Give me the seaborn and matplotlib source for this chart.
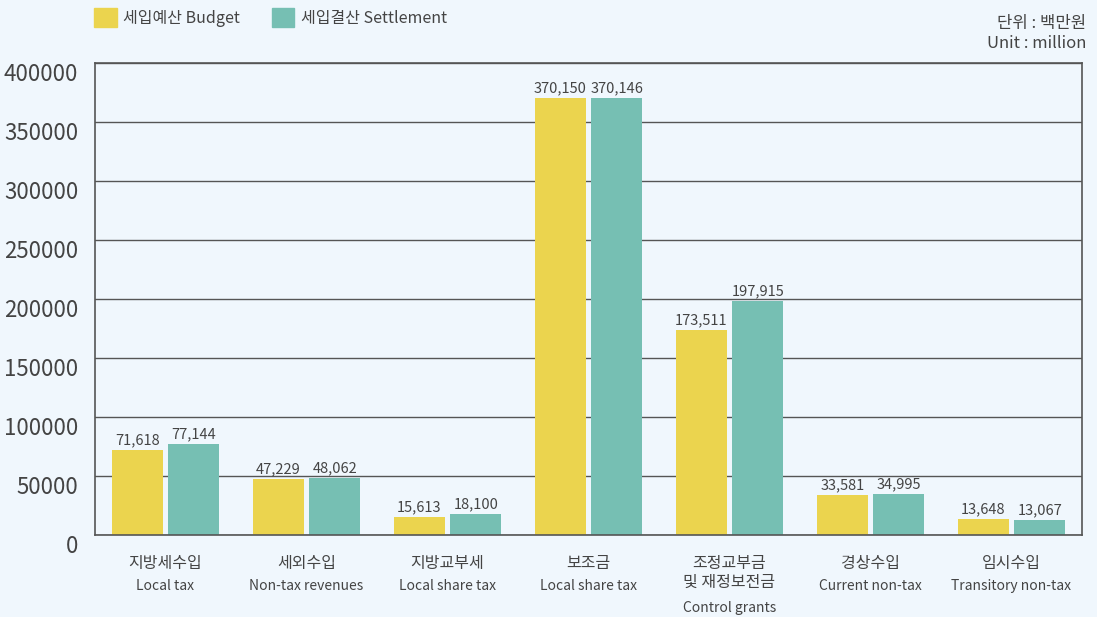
import numpy as np
import pandas as pd
import matplotlib.pyplot as plt
import seaborn as sns

sns.set_theme(style="white")
plt.rcParams['font.family'] = ['Noto Sans CJK KR', 'DejaVu Sans']
plt.rcParams['font.weight'] = 'light'

# values (unit: million won)
cats_ko = ["지방세수입", "세외수입", "지방교부세", "보조금", "조정교부금\n및 재정보전금", "경상수입", "임시수입"]
cats_en = ["Local tax", "Non-tax revenues", "Local share tax", "Local share tax", "Control grants", "Current non-tax", "Transitory non-tax"]
budget = [71618, 47229, 15613, 370150, 173511, 33581, 13648]
settlement = [77144, 48062, 18100, 370146, 197915, 34995, 13067]
series = ["세입예산 Budget", "세입결산 Settlement"]
colors = ["#EBD44E", "#76BFB3"]

df = pd.DataFrame({
    "cat": cats_ko * 2,
    "value": budget + settlement,
    "series": [series[0]] * len(budget) + [series[1]] * len(settlement),
})

bg = "#F0F7FD"
txt = "#444444"
line = "#555555"

fig = plt.figure(figsize=(10.97, 6.17), dpi=100, facecolor=bg)
ax = fig.add_axes([0.0866, 0.1329, 0.8997, 0.765])
ax.set_facecolor(bg)

sns.barplot(data=df, x="cat", y="value", hue="series", palette=colors,
            width=0.8, gap=0.1, ax=ax, saturation=1, edgecolor="none")

ax.set_ylim(0, 400000)
ax.set_xlim(-0.5, len(cats_ko) - 0.5)
ax.set_yticks(np.arange(0, 400001, 50000))
ax.yaxis.grid(True, color=line, linewidth=1)
ax.set_axisbelow(True)
ax.tick_params(axis="y", length=0, pad=12, labelsize=16, labelcolor=txt)
for t in ax.get_yticklabels():
    t.set_verticalalignment("top")

# category labels (Korean + English)
ax.set_xticks(range(len(cats_ko)))
ax.set_xticklabels([])
ax.tick_params(axis="x", which="major", length=0)
ax.set_xticks(np.arange(0.5, len(cats_ko) - 1, 1), minor=True)
ax.tick_params(axis="x", which="minor", direction="in", length=9, width=1, color="#666666")
trans = ax.get_xaxis_transform()
for i, (ko, en) in enumerate(zip(cats_ko, cats_en)):
    ax.text(i, -0.043, ko, transform=trans, ha="center", va="top",
            fontsize=11.5, color=txt, linespacing=1.15)
    nl = ko.count("\n")
    ax.text(i, -0.093 - nl * 0.046, en, transform=trans, ha="center", va="top",
            fontsize=10, color=txt)

ax.set_xlabel("")
ax.set_ylabel("")
for s in ax.spines.values():
    s.set_color(line)
    s.set_linewidth(1.2)

for cont in ax.containers:
    ax.bar_label(cont, labels=[f"{v:,.0f}" for v in cont.datavalues],
                 padding=2, fontsize=10.5, color=txt)

ax.legend_.remove()
handles = [plt.Rectangle((0, 0), 1, 1, color=c) for c in colors]
fig.legend(handles, series, loc="upper left", bbox_to_anchor=(0.073, 1.01),
           ncol=2, frameon=False, fontsize=11.5, handlelength=1.4, handleheight=1.4,
           handletextpad=0.4, columnspacing=2.0, labelcolor=txt)

fig.text(0.99, 0.975, "단위 : 백만원\nUnit : million", ha="right", va="top",
         fontsize=12, color=txt, linespacing=1.2, multialignment="right")

fig.savefig("out.png", dpi=100, facecolor=bg)
